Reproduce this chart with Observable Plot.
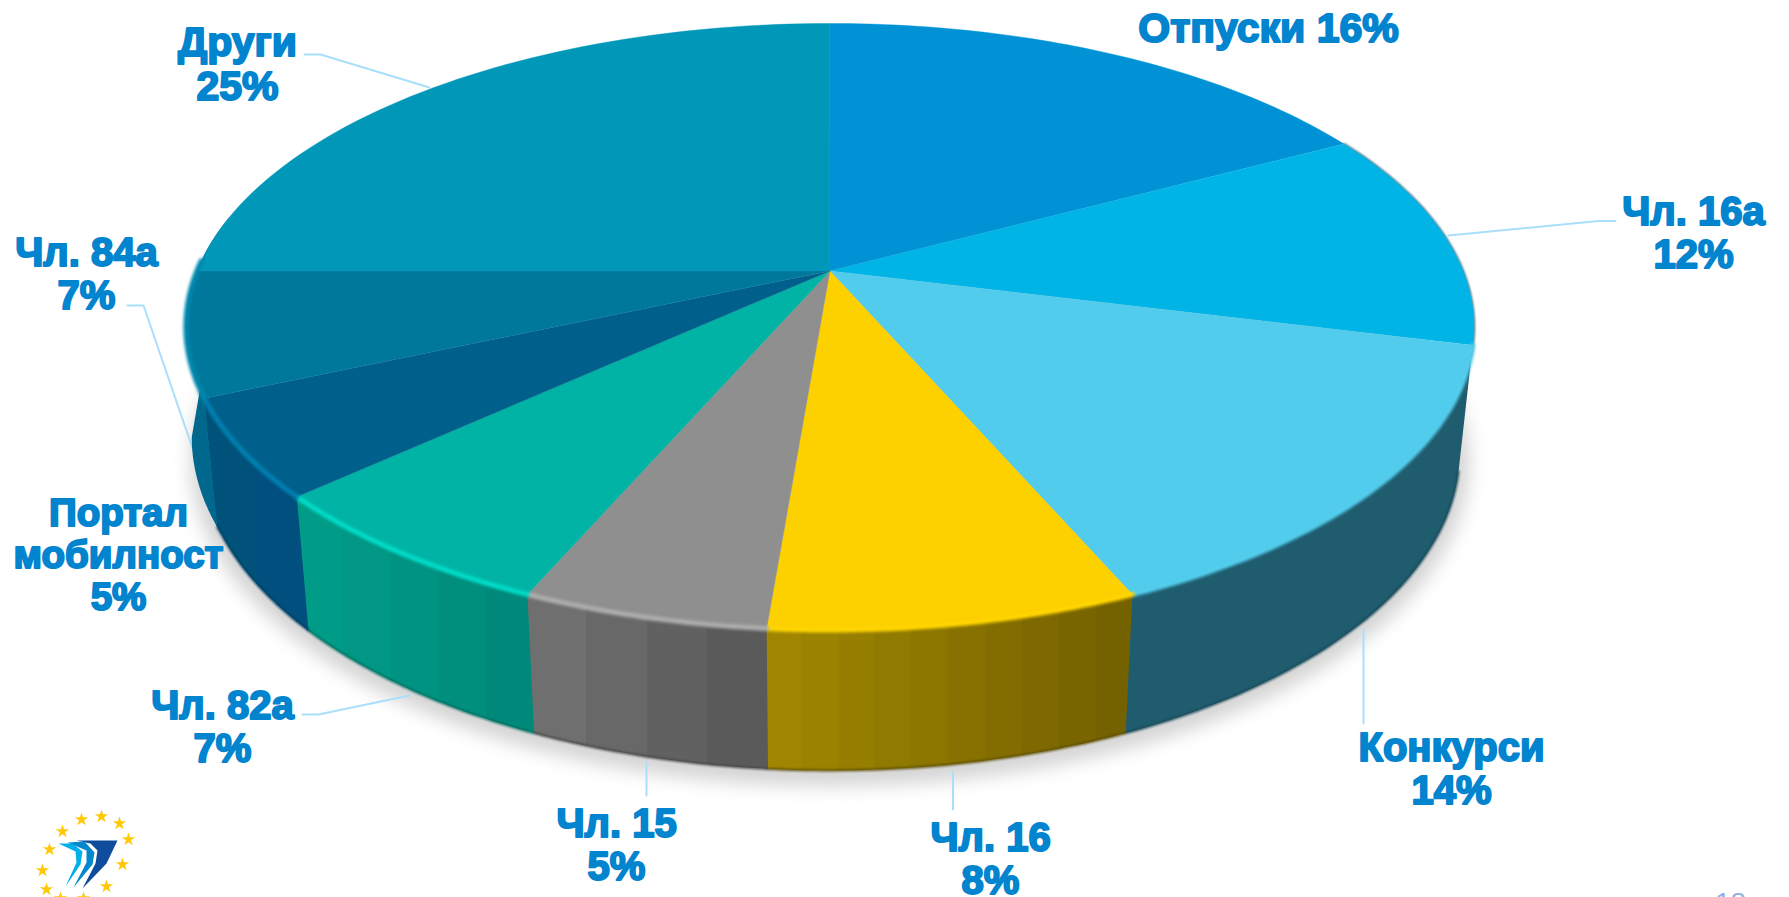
<!DOCTYPE html>
<html lang="bg">
<head>
<meta charset="utf-8">
<script src="https://cdn.jsdelivr.net/npm/d3@7"></script>
<script src="https://cdn.jsdelivr.net/npm/@observablehq/plot@0.6"></script>
<style>
html,body{margin:0;padding:0;background:#fff;overflow:hidden}
svg{display:block}
</style>
</head>
<body>
<div id="chart"></div>
<script>
// ---- data ----
const categories = ["Отпуски","Чл. 16а","Конкурси","Чл. 16","Чл. 15","Чл. 82а","Портал\nмобилност","Чл. 84а","Други"];
const percentLabels = [16,12,14,8,5,7,5,7,25];
// angular share each slice actually occupies in the drawing
const drawnShares = [17.2,11.7,14.6,7.8,5.2,6.7,5.2,6.6,25];

// ---- styles ----
const topColors  = ["#0092D5","#00B4E6","#52CCEC","#FDD000","#8F8F8F","#00B3A4","#005F8B","#00789C","#0097B8"];
const rimColors  = [null,null,"#52CCEC","#FFD500","#ADADAD","#00DCC8","#0080B0","#0088AE",null];
const wallRight  = [null,null,"#1F5C6E","#746100","#5A5A5A","#00897A","#004F7E","#00688C",null];
const wallLeft   = [null,null,"#1F5C6E","#A08600","#6F6F6F","#009C87","#00527A","#00688C",null];
const wallBands  = [0,0,1,10,4,5,2,1,0];
const labelColor = "#0284CE";
const labelSizes = [41,40,40,40,40,40,38.5,40,41];

// ---- layout (px) ----
const W = 1789, H = 897;
const cx = 829.4, cy = 270.4, R = 633, Hv = 293, k = 0.184;   // perspective of the top disc
const sx = 0.978, sy = 1.05, depth = 122.5;                   // bottom rim relative to top rim
const labelX = [1268,1693,1451,990,616,222,118,86,237];
const labelY = [27,232,768,858,844,726,554,273,63];
const leaders = [
  [[1448,235],[1598,220.5],[1615,220.5]],
  [[1363,629],[1363,723]],
  [[952.5,771],[952.5,809]],
  [[646,762],[646,795]],
  [[302,714],[318,714],[409,695]],
  [[127,305],[143,305],[199,468]],
  [[304,54],[320,54],[429,87]]
];
const stars = [[81,819],[101,816],[119,823],[128,839],[122,864],[106,886],[62,831],[49,849],[42,870],[46,889],[60,898],[83,898]];
const logoShapes = [
  {fill:"#0F4C9C",pts:[[76,840],[117,840],[106,863],[82,888],[95,863],[97,850],[90,843]]},
  {fill:"#0587CE",pts:[[67,842],[84,841],[94,852],[92,864],[73,887],[86,862],[86,850]]},
  {fill:"#00AEEA",pts:[[58,843],[72,843],[82,851],[80,864],[65,886],[76,862],[75,851]]}
];

// ---- geometry ----
const rad = d => d * Math.PI / 180;
const topPt = t => { // t in degrees, clockwise from 12 o'clock
  const u = Math.sin(rad(t)), v = -Math.cos(rad(t)), w = 1 - k * v;
  return [R * u / w, Hv * v / w];
};
const P = (X, Y) => ({x: cx + X, y: cy + Y});
const topXY = t => { const [X,Y] = topPt(t); return P(X,Y); };
const leftBulge = t => t > 245 ? 9 * (t - 245) / 17 : 0;       // the left flank of the base sits further out
const botXY = t => { const [X,Y] = topPt(t); return P(sx*X - leftBulge(t), sy*Y + depth); };

const cum = d3.cumsum(drawnShares).map(d => d * 3.6);
const spans = categories.map((c,i) => ({i, a: i ? cum[i-1] : 0, b: i === categories.length-1 ? 360 : cum[i]}));
const steps = (a,b,n) => d3.range(n+1).map(j => a + (b-a)*j/n);
const rimEnd = s => s.i === 7 ? 272 : s.b;

const topRows = spans.flatMap(s => [
  {id:s.i, color:topColors[s.i], x:cx, y:cy},
  ...steps(s.a,s.b,60).map(t => ({id:s.i, color:topColors[s.i], ...topXY(t)}))
]);

// one wall polygon per front slice; the 84а wall runs up to the leftmost point of the top rim
const wallSpans = spans.filter(s => wallBands[s.i]);
const wallPolys = wallSpans.map(s => {
  const topEnd = s.i === 7 ? 281 : s.b + 0.2, botEnd = s.i === 7 ? 262 : s.b + 0.2;
  const rows = [...steps(s.a,topEnd,50).map(topXY), ...steps(s.a,botEnd,50).reverse().map(botXY)];
  return {i:s.i, rows, x0:d3.min(rows,d=>d.x), x1:d3.max(rows,d=>d.x)};
});

const wallGradients = () => {
  const defs = d3.create("svg:defs");
  wallPolys.forEach(p => {
    const n = wallBands[p.i], col = d3.interpolateRgb(wallLeft[p.i], wallRight[p.i]);
    const g = defs.append("linearGradient").attr("id",`wall-${p.i}`)
      .attr("gradientUnits","userSpaceOnUse").attr("x1",p.x0).attr("x2",p.x1).attr("y1",0).attr("y2",0);
    d3.range(n).forEach(j => {
      const c = col(n>1 ? j/(n-1) : 0);
      g.append("stop").attr("offset",j/n).attr("stop-color",c);
      g.append("stop").attr("offset",(j+1)/n).attr("stop-color",c);
    });
  });
  return defs.node();
};

const rimRows = spans.filter(s => rimColors[s.i]).flatMap(s =>
  steps(s.a, rimEnd(s), 40).map(t => ({id:s.i, color:rimColors[s.i], ...topXY(t)})));
const bottomEdge = spans.filter(s => wallBands[s.i] && s.i !== 7).flatMap(s =>
  steps(s.a, s.b, 40).map(t => ({id:s.i, color:d3.color(wallRight[s.i]).darker(0.7).formatHex(), ...botXY(t)})));
const darkEdge = steps(cum[0], cum[1]+2, 40).map(t => topXY(t));

const shadow = steps(0,360,240).map(t => { const [X,Y] = topPt(t);
  return P(sx*X*1.015, sy*Y*1.02 + depth + 8); });

const leaderRows = leaders.flatMap((l,id) => l.map(([x,y]) => ({id,x,y})));
const logoRows = logoShapes.flatMap((s,id) => s.pts.map(([x,y]) => ({id,color:s.fill,x,y})));
const labelRows = categories.map((c,i) => ({
  x: labelX[i], y: labelY[i], size: labelSizes[i],
  text: i === 0 ? `${c} ${percentLabels[i]}%` : `${c}\n${percentLabels[i]}%`
}));

const chart = Plot.plot({
  width: W, height: H, margin: 0,
  style: {background:"#fff", overflow:"hidden"},
  x: {domain:[0,W], range:[0,W], axis:null},
  y: {domain:[0,H], range:[0,H], axis:null},
  color: {type:"identity"},
  marks: [
    wallGradients,
    Plot.line(shadow, {x:"x", y:"y", fill:"#d4d4d4", stroke:"none", imageFilter:"blur(9px)"}),
    Plot.line(leaderRows, {x:"x", y:"y", z:"id", stroke:"#A9DFFB", strokeWidth:2, curve:"linear"}),
    ...wallPolys.map(p => Plot.line(p.rows, {x:"x", y:"y", fill:`url(#wall-${p.i})`, stroke:"none"})),
    Plot.line(bottomEdge, {x:"x", y:"y", z:"id", stroke:"color", strokeWidth:2, imageFilter:"blur(0.8px)"}),
    Plot.line(darkEdge, {x:"x", y:"y", stroke:"#14566e", strokeWidth:2, imageFilter:"blur(0.8px)"}),
    Plot.line(topRows, {x:"x", y:"y", z:"id", fill:"color", stroke:"color", strokeWidth:0.4}),
    Plot.line(rimRows, {x:"x", y:"y", z:"id", stroke:"color", strokeWidth:5, imageFilter:"blur(1.6px)"}),
    Plot.text(labelRows, {
      x:"x", y:"y", text:"text", fill:labelColor, stroke:labelColor, strokeWidth:2,
      fontFamily:"Liberation Sans", fontWeight:700, fontSize:"size", lineHeight:1.085, textAnchor:"middle", lineAnchor:"middle"
    }),
    Plot.line(logoRows, {x:"x", y:"y", z:"id", fill:"color", stroke:"none"}),
    Plot.dot(stars, {x:d=>d[0], y:d=>d[1], symbol:"star", r:4.2, fill:"#FFC90A", stroke:"none"}),
    Plot.text(["18"], {x:()=>1730, y:()=>903, fontFamily:"Liberation Sans", fontSize:28, fill:"#8FB2E0"})
  ]
});
document.getElementById("chart").appendChild(chart);
</script>
</body>
</html>
